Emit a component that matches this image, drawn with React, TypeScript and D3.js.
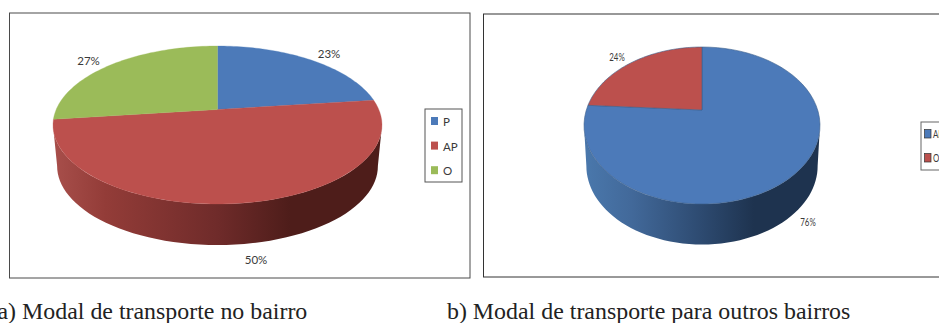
import React from "react";
import * as d3 from "d3";

// ---- data ----
const categoriesA = ["P", "AP", "O"];
const valuesA = [23, 50, 27];
const categoriesB = ["AP", "O"];
const valuesB = [76, 24];
const captionA = "a) Modal de transporte no bairro";
const captionB = "b) Modal de transporte para outros bairros";

// ---- styles & layout ----
const BLUE = "#4c7ab9";
const RED = "#bc504d";
const GREEN = "#9bbb59";
const coloursA = [BLUE, RED, GREEN];
const coloursB = [BLUE, RED];
const LABEL = "#3a3a3a";

type Geo = {
  id: string; cx: number; apexY: number; top: number; bottom: number; halfW: number; depth: number; shrink: number;
  stops: [number, string][]; outline?: string;
};

const geoA: Geo = {
  id: "a", cx: 217.5, apexY: 109.5, top: 46, bottom: 204, halfW: 164.5, depth: 41, shrink: 0.975,
  stops: [[0, "#a84f4b"], [0.16, "#933c38"], [0.5, "#6f2b2a"], [0.72, "#4e1d1a"], [1, "#4e1d1a"]],
};
const geoB: Geo = {
  id: "b", cx: 702, apexY: 110, top: 47, bottom: 204, halfW: 118, depth: 40.5, shrink: 0.98,
  stops: [[0, "#4a78ac"], [0.2, "#42699a"], [0.5, "#2d4a70"], [0.72, "#1e334f"], [1, "#1e334f"]],
  outline: "#3c5f8c",
};

// Projective map of the unit circle: circle centre lands on the apex, circle on the rim ellipse.
function projector(g: Geo) {
  const m = g.apexY;
  const c = (g.bottom - m - (m - g.top)) / (g.bottom - g.top);
  const a = g.top * (1 + c) - m;
  const rx = g.halfW * Math.sqrt(1 - c * c);
  const top = (t: number): [number, number] => {
    const v = Math.cos(t);
    const d = 1 + c * v;
    return [g.cx + (rx * Math.sin(t)) / d, (a * v + m) / d];
  };
  const low = (t: number): [number, number] => {
    const [x, y] = top(t);
    return [g.cx + (x - g.cx) * g.shrink, y + g.depth];
  };
  const tR = Math.acos(-c);
  return { top, low, tR, tL: 2 * Math.PI - tR };
}

const line = d3.line();
const samples = (a: number, b: number) => d3.range(0, 61).map((i) => a + ((b - a) * i) / 60);

function Pie3D({ g, values, colours }: { g: Geo; values: number[]; colours: string[] }) {
  const arcs = d3.pie<number>().sort(null).startAngle(0).endAngle(2 * Math.PI)(values);
  const p = projector(g);
  const xMin = g.cx - g.halfW;
  const xMax = g.cx + g.halfW;
  return (
    <g>
      <defs>
        {arcs.map((d, i) => (
          <linearGradient key={i} id={`side-${g.id}-${i}`} gradientUnits="userSpaceOnUse" x1={xMin} x2={xMax} y1={0} y2={0}>
            {g.stops.map(([o, col]) => <stop key={o} offset={o} stopColor={col} />)}
          </linearGradient>
        ))}
      </defs>
      {arcs.map((d, i) => {
        const a = Math.max(d.startAngle, p.tR);
        const b = Math.min(d.endAngle, p.tL);
        if (a >= b) return null;
        const ts = samples(a, b);
        const pts = [...ts.map(p.top), ...ts.slice().reverse().map(p.low)];
        return <path key={i} d={line(pts) + "Z"} fill={`url(#side-${g.id}-${i})`} />;
      })}
      {arcs.map((d, i) => {
        const pts: [number, number][] = [[g.cx, g.apexY], ...samples(d.startAngle, d.endAngle).map(p.top)];
        return (
          <path key={i} d={line(pts) + "Z"} fill={colours[i]}
            stroke={g.outline ?? colours[i]} strokeWidth={g.outline ? 0.6 : 0.3} />
        );
      })}
    </g>
  );
}

const labelFont = "Lato, 'Open Sans', sans-serif";

export default function App() {
  return (
    <svg width={939} height={323} viewBox="0 0 939 323"
      style={{ position: "absolute", left: 0, top: 0, display: "block", background: "#fff" }}>
      {/* frames */}
      <rect x={9.5} y={13} width={460.5} height={265} fill="#fff" stroke="#4a4a4a" strokeWidth={1} />
      <rect x={483.5} y={14} width={470} height={263} fill="#fff" stroke="#333" strokeWidth={1} />

      <Pie3D g={geoA} values={valuesA} colours={coloursA} />
      <Pie3D g={geoB} values={valuesB} colours={coloursB} />

      {/* pie labels */}
      <g fontFamily={labelFont} fontSize={11.5} fill={LABEL} textAnchor="middle">
        <text x={329} y={58}>{valuesA[0]}%</text>
        <text x={256} y={264}>{valuesA[1]}%</text>
        <text x={88.5} y={65}>{valuesA[2]}%</text>
      </g>
      <g fontFamily={labelFont} fontSize={11} fill={LABEL} textAnchor="middle">
        <text transform="translate(808,226) scale(0.72,1)">{valuesB[0]}%</text>
        <text transform="translate(617,61) scale(0.72,1)">{valuesB[1]}%</text>
      </g>

      {/* legend a */}
      <rect x={425} y={109} width={37} height={73} fill="#fff" stroke="#555" strokeWidth={1} />
      {categoriesA.map((c, i) => (
        <g key={c}>
          <rect x={431} y={117 + i * 24.6} width={7} height={8} fill={coloursA[i]} />
          <text x={443} y={126 + i * 24.6} fontFamily={labelFont} fontSize={11.5} fill={LABEL}>{c}</text>
        </g>
      ))}

      {/* legend b */}
      <rect x={921} y={122} width={30} height={48} fill="#fff" stroke="#666" strokeWidth={1} />
      {categoriesB.map((c, i) => (
        <g key={c}>
          <rect x={924.5} y={129.5 + i * 24} width={6.5} height={8.5} fill={coloursB[i]} stroke="#333" strokeWidth={0.7} />
          <text transform={`translate(933,${138 + i * 24}) scale(0.72,1)`} fontFamily={labelFont} fontSize={11} fill={LABEL}>{c}</text>
        </g>
      ))}

      {/* captions */}
      <g fontFamily="'Liberation Serif', serif" fontSize={23.9} fill="#222">
        <text x={-2.5} y={319}>{captionA}</text>
        <text x={447} y={319}>{captionB}</text>
      </g>
    </svg>
  );
}
